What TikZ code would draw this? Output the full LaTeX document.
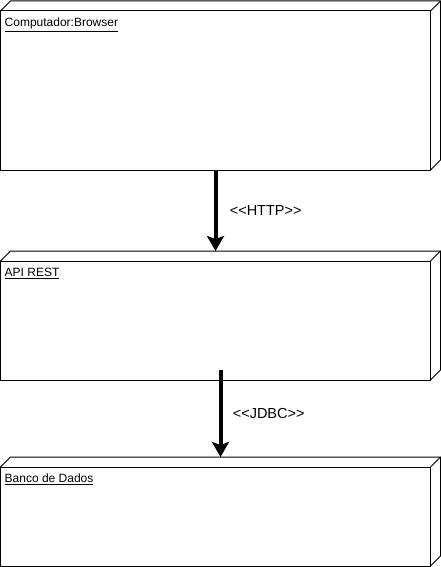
\documentclass[tikz,border=0pt]{standalone}
\usepackage{fontspec}
\setmainfont{Liberation Sans}
\usetikzlibrary{calc,positioning,arrows.meta}
\tikzstyle{device} = [rectangle, draw, line width=1pt, anchor=north west, minimum width=430pt, inner sep=0pt, outer sep=0pt]
\tikzstyle{devicename} = [anchor=north west, inner sep=0pt, font=\fontsize{12}{14}\selectfont]
\tikzstyle{connector} = [line width=4pt, -{Stealth[length=15pt,width=17pt,inset=3pt]}]
\tikzstyle{stereotype} = [font=\fontsize{14.5}{17}\selectfont]
\newcommand{\devicedepth}[1]{%
    \draw [line width=1pt, line join=bevel] (#1.north west) -- ++(10,10) -| ($(#1.south east)+(10,10)$) -- (#1.south east);
    \draw [line width=1pt] (#1.north east) -- ++(10,10);
}

\begin{document}
\begin{tikzpicture}[x=1pt,y=1pt]
        \useasboundingbox (0,0) rectangle (441,-567);
        \node (browser) [device, minimum height=159pt] at (0.5,-11) {};
        \node (api) [device, minimum height=119pt] at (0.5,-261) {};
        \node (db) [device, minimum height=99pt] at (0.5,-467) {};
        \devicedepth{browser}
        \devicedepth{api}
        \devicedepth{db}
        \node (browser-name) [devicename, below right=7pt and 4pt of browser.north west] {\underline{Computador:Browser}};
        \node (api-name) [devicename, below right=7pt and 4pt of api.north west] {\underline{API REST}};
        \node (db-name) [devicename, below right=7pt and 4pt of db.north west] {\underline{Banco de Dados}};
        \draw [connector] (browser.south) -- node[stereotype, right=9pt] {\textless{}\textless{}HTTP\textgreater{}\textgreater{}} ($(api.north)+(0,10)$);
        \draw [connector] ($(api.south)+(5,10)$) -- node[stereotype, right=7pt] {\textless{}\textless{}JDBC\textgreater{}\textgreater{}} ($(db.north)+(5,10)$);
    \end{tikzpicture}
\end{document}
